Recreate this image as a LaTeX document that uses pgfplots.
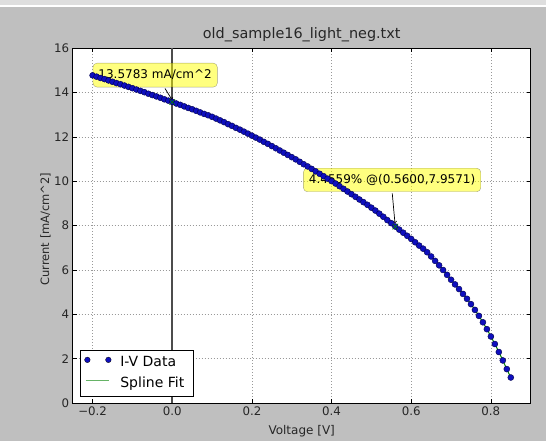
\documentclass[border=0pt]{standalone}
\usepackage{fontspec}
\setmainfont{DejaVu Sans}
\usepackage{pgfplots}
\pgfplotsset{compat=1.18}
\usepackage{pgfplotstable}
\definecolor{figbg}{RGB}{191,191,191}
\definecolor{topstrip}{RGB}{222,222,222}
\definecolor{mplblue}{RGB}{15,15,190}
\definecolor{mplgreen}{RGB}{0,128,0}
\definecolor{annyellow}{RGB}{255,255,0}

\pgfplotstableread{
V I
-0.20 14.78
-0.19 14.72
-0.18 14.66
-0.17 14.61
-0.16 14.55
-0.15 14.49
-0.14 14.43
-0.13 14.38
-0.12 14.32
-0.11 14.26
-0.10 14.20
-0.09 14.14
-0.08 14.08
-0.07 14.02
-0.06 13.95
-0.05 13.89
-0.04 13.83
-0.03 13.77
-0.02 13.70
-0.01 13.64
0.00 13.58
0.01 13.51
0.02 13.45
0.03 13.38
0.04 13.31
0.05 13.25
0.06 13.18
0.07 13.11
0.08 13.04
0.09 12.98
0.10 12.91
0.11 12.83
0.12 12.75
0.13 12.67
0.14 12.58
0.15 12.50
0.16 12.41
0.17 12.33
0.18 12.24
0.19 12.15
0.20 12.06
0.21 11.97
0.22 11.88
0.23 11.78
0.24 11.69
0.25 11.59
0.26 11.49
0.27 11.39
0.28 11.29
0.29 11.19
0.30 11.09
0.31 10.99
0.32 10.88
0.33 10.77
0.34 10.67
0.35 10.56
0.36 10.45
0.37 10.34
0.38 10.23
0.39 10.12
0.40 10.01
0.41 9.90
0.42 9.78
0.43 9.66
0.44 9.54
0.45 9.42
0.46 9.30
0.47 9.18
0.48 9.06
0.49 8.94
0.50 8.81
0.51 8.68
0.52 8.54
0.53 8.40
0.54 8.25
0.55 8.11
0.56 7.96
0.57 7.82
0.58 7.68
0.59 7.54
0.60 7.40
0.61 7.25
0.62 7.10
0.63 6.96
0.64 6.80
0.65 6.61
0.66 6.41
0.67 6.21
0.68 6.00
0.69 5.78
0.70 5.56
0.71 5.35
0.72 5.14
0.73 4.92
0.74 4.70
0.75 4.46
0.76 4.20
0.77 3.93
0.78 3.64
0.79 3.33
0.80 3.00
0.81 2.66
0.82 2.30
0.83 1.92
0.84 1.53
0.85 1.15
}\ivdata

\begin{document}
\begin{tikzpicture}
\fill[figbg] (0bp,0bp) rectangle (546bp,441bp);
\fill[topstrip] (0bp,436bp) rectangle (546bp,441bp);
\draw[white, line width=1.5bp] (0bp,435bp) -- (546bp,435bp);
\begin{axis}[
  at={(72.7bp,38bp)}, anchor=south west,
  scale only axis, width=458bp, height=354.7bp,
  xmin=-0.25, xmax=0.9, ymin=0, ymax=16,
  xtick={-0.2,0,0.2,0.4,0.6,0.8},
  xticklabels={−0.2,0.0,0.2,0.4,0.6,0.8},
  ytick={0,2,4,6,8,10,12,14,16},
  yticklabels={0,2,4,6,8,10,12,14,16},
  tick align=inside, xtick pos=both, ytick pos=both,
  major tick length=4bp,
  tick style={black, line width=0.6bp},
  axis line style={black, line width=1bp},
  grid=major,
  major grid style={black!40, line width=0.5bp, dash pattern=on 1bp off 2bp},
  axis background/.style={fill=white},
  tick label style={font=\fontsize{11.8bp}{14bp}\selectfont, text=black!85},
  title={old\_sample16\_light\_neg.txt},
  title style={font=\fontsize{14.4bp}{17bp}\selectfont, text=black!85, at={(axis description cs:0.5,1)}, anchor=base, yshift=4bp},
  xlabel={Voltage [V]},
  xlabel style={font=\fontsize{12bp}{14bp}\selectfont, text=black!85, at={(axis description cs:0.5,0)}, anchor=base, yshift=-31.3bp},
  ylabel={Current [mA/cm\textasciicircum 2]},
  ylabel style={font=\fontsize{11.5bp}{14bp}\selectfont, text=black!85, at={(axis description cs:-0.0517,0.49)}, anchor=base, rotate=0},
  legend style={at={(axis description cs:0.016,0.017)}, anchor=south west,
    draw=black, line width=0.8bp, fill=white, inner xsep=4bp, inner ysep=4.3bp,
    font=\fontsize{14bp}{16bp}\selectfont, row sep=3.4bp, column sep=4bp,
    nodes={inner xsep=5bp, inner ysep=2bp, text height=10bp, text depth=3bp}},
  legend cell align=left,
]
\addplot[black!70, line width=1.7bp, forget plot] coordinates {(0,0) (0,16)};
\addplot[only marks, mark=*, mark size=3bp,
  mark options={fill=mplblue, draw=black!70!blue, line width=0.4bp},
  legend image code/.code={
    \fill[mplblue, draw=black, line width=0.3bp] (1.7bp,3.5bp) circle (2.8bp);
    \fill[mplblue, draw=black, line width=0.3bp] (22.7bp,3.5bp) circle (2.8bp);
  }] table[x=V,y=I] {\ivdata};
\addlegendentry{I-V Data}
\addplot[mplgreen, line width=1bp,
  legend image code/.code={
    \draw[mplgreen!60, line width=1.2bp] (0bp,3.5bp) -- (23bp,3.5bp);
  }] table[x=V,y=I] {\ivdata};
\addlegendentry{Spline Fit}
\addplot[only marks, mark=x, mark size=4bp, mplgreen, line width=0.6bp, forget plot]
  coordinates {(0,13.5783) (0.56,7.9571)};
\node[fill=annyellow, fill opacity=0.5, text opacity=1, draw=black, draw opacity=0.35,
  rounded corners=4bp, inner xsep=5.5bp, inner ysep=6.2bp, text height=9bp, text depth=2.5bp,
  font=\fontsize{12bp}{14bp}\selectfont] at (axis cs:-0.043,14.79) {13.5783 mA/cm\textasciicircum 2};
\draw[->, black, line width=0.7bp] (axis cs:-0.0183,14.19) -- (axis cs:0,13.66);
\node[fill=annyellow, fill opacity=0.5, text opacity=1, draw=black, draw opacity=0.35,
  rounded corners=4bp, inner xsep=5.5bp, inner ysep=6bp, text height=9bp, text depth=2.5bp,
  font=\fontsize{12bp}{14bp}\selectfont] at (axis cs:0.552,10.06) {4.4559\% @(0.5600,7.9571)};
\draw[->, black, line width=0.7bp] (axis cs:0.5524,9.46) -- (axis cs:0.5592,8.105);
\end{axis}
\pgfresetboundingbox
\useasboundingbox (0bp,0bp) rectangle (546bp,441bp);
\end{tikzpicture}
\end{document}
